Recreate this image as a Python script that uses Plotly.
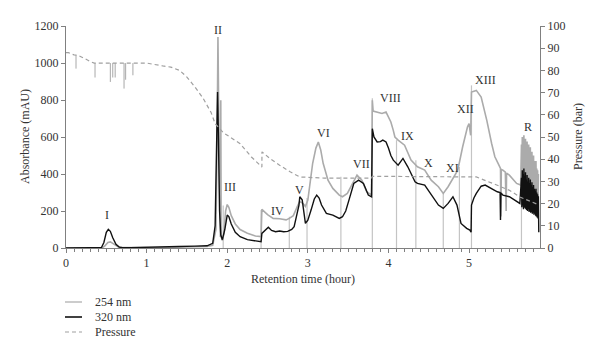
import plotly.graph_objects as go

# ---------------- data ----------------
t254 = [0, 0.1, 0.2, 0.3, 0.4, 0.45, 0.48, 0.52, 0.55, 0.6, 0.65, 0.7, 0.8, 1.0, 1.2, 1.4, 1.6, 1.75,
        1.82, 1.86, 1.875, 1.885, 1.895, 1.905, 1.915, 1.92, 1.925, 1.94, 1.96, 1.98, 2.0, 2.02, 2.05,
        2.1, 2.16, 2.25, 2.35, 2.42, 2.43, 2.5, 2.57, 2.65, 2.73, 2.77, 2.82, 2.87, 2.9, 2.94, 2.97,
        3.0, 3.03, 3.06, 3.1, 3.13, 3.16, 3.19, 3.25, 3.31, 3.39, 3.43, 3.49, 3.55, 3.61, 3.67, 3.73,
        3.79, 3.80, 3.81, 3.86, 3.92, 3.97, 4.0, 4.03, 4.06, 4.08, 4.12, 4.2, 4.28, 4.36, 4.45, 4.53,
        4.62, 4.68, 4.74, 4.8, 4.86, 4.92, 4.98, 5.0, 5.02, 5.03, 5.09, 5.15, 5.22, 5.28, 5.32, 5.36,
        5.39, 5.395, 5.40, 5.42, 5.45, 5.46, 5.465, 5.5, 5.59, 5.64,
        5.65, 5.655, 5.66, 5.665, 5.67, 5.675, 5.68, 5.685, 5.69, 5.695, 5.70, 5.705, 5.71, 5.715,
        5.72, 5.725, 5.73, 5.735, 5.74, 5.745, 5.75, 5.755, 5.76, 5.765, 5.77, 5.775, 5.78, 5.785,
        5.79, 5.795, 5.80, 5.805, 5.81, 5.815, 5.82, 5.825, 5.83, 5.835, 5.84, 5.845, 5.85, 5.855, 5.86]
v254 = [0, 1, 0, 1, 0, 2, 10, 30, 33, 20, 6, 2, 1, 2, 3, 5, 6, 8,
        15, 100, 600, 1140, 700, 200, 60, 798, 60, 40, 80, 200, 235, 220, 175,
        130, 100, 80, 65, 62, 209, 180, 160, 158, 152, 160, 175, 225, 252, 240, 225,
        259, 360, 458, 540, 573, 530, 458, 367, 322, 286, 277, 295, 349, 394, 367, 304,
        286, 798, 740, 735, 727, 735, 708, 681, 636, 600, 583, 556, 475, 439, 421, 367,
        331, 295, 331, 376, 421, 546, 654, 672, 609, 843, 852, 816, 690, 565, 493, 457,
        430, 170, 425, 421, 410, 200, 405, 394, 349, 340,
        560, 290, 600, 300, 585, 280, 610, 300, 560, 285, 590, 290, 540, 280, 575,
        275, 530, 290, 560, 270, 520, 280, 545, 265, 500, 275, 520, 260, 480,
        270, 500, 255, 470, 260, 450, 250, 470, 245, 430, 240, 420, 235, 400]

t320 = [0, 0.1, 0.2, 0.3, 0.4, 0.44, 0.47, 0.5, 0.525, 0.55, 0.58, 0.62, 0.66, 0.7, 0.8, 1.0, 1.2,
        1.4, 1.6, 1.75, 1.82, 1.85, 1.87, 1.88, 1.89, 1.905, 1.92, 1.94, 1.97, 2.0, 2.02, 2.05, 2.1,
        2.16, 2.25, 2.35, 2.42, 2.43, 2.47, 2.51, 2.55, 2.6, 2.65, 2.7, 2.75, 2.8, 2.83, 2.86, 2.89,
        2.9, 2.93, 2.97, 3.0, 3.04, 3.08, 3.11, 3.14, 3.17, 3.23, 3.31, 3.39, 3.43, 3.47, 3.51, 3.57,
        3.63, 3.69, 3.75, 3.79, 3.80, 3.82, 3.86, 3.9, 3.93, 3.97, 4.0, 4.03, 4.06, 4.12, 4.18, 4.24,
        4.33, 4.36, 4.45, 4.53, 4.62, 4.68, 4.74, 4.8, 4.85, 4.9, 4.97, 5.01, 5.025, 5.03, 5.06, 5.09,
        5.15, 5.2, 5.27, 5.35, 5.385, 5.39, 5.395, 5.42, 5.5, 5.59, 5.63,
        5.65, 5.655, 5.66, 5.665, 5.67, 5.675, 5.68, 5.685, 5.69, 5.695, 5.70, 5.705, 5.71, 5.715,
        5.72, 5.725, 5.73, 5.735, 5.74, 5.745, 5.75, 5.755, 5.76, 5.765, 5.77, 5.775, 5.78, 5.785,
        5.79, 5.795, 5.80, 5.805, 5.81, 5.815, 5.82, 5.825, 5.83, 5.835, 5.84, 5.845, 5.85, 5.855, 5.86, 5.865]
v320 = [0, 2, 1, 2, 1, 3, 30, 85, 101, 90, 55, 20, 5, 2, 2, 3, 5,
        8, 10, 12, 25, 120, 600, 843, 620, 200, 70, 45, 100, 178, 170, 130, 85,
        61, 45, 37, 34, 79, 95, 112, 95, 88, 92, 88, 90, 100, 115, 180, 232,
        277, 260, 133, 150, 205, 265, 286, 270, 232, 187, 178, 160, 169, 200, 259, 349,
        367, 349, 286, 277, 645, 600, 573, 575, 583, 573, 540, 500, 475, 448, 484, 439,
        358, 349, 340, 286, 232, 214, 241, 277, 232, 133, 106, 97, 85, 232, 270, 295,
        334, 340, 322, 304, 300, 151, 298, 286, 277, 250, 241,
        380, 220, 420, 230, 400, 210, 430, 220, 390, 215, 410, 210, 370, 205, 395,
        200, 360, 210, 380, 195, 350, 200, 370, 190, 340, 195, 355, 185, 330,
        190, 340, 180, 320, 185, 310, 175, 320, 170, 300, 165, 290, 160, 280, 85]

tp = [0, 0.03, 0.06, 0.1, 0.15, 0.2, 0.25, 0.3, 0.35, 0.5, 0.8, 1.0, 1.2, 1.3, 1.41, 1.5, 1.6,
      1.66, 1.7, 1.8, 1.85, 1.95, 2.05, 2.16, 2.3, 2.43, 2.431, 2.53, 2.65, 2.78, 2.9, 3.2, 3.5,
      3.79, 3.8, 4.2, 4.6, 5.0, 5.09, 5.3, 5.5, 5.63, 5.75, 5.86]
vp = [88, 88, 87.5, 87, 86.8, 86, 85, 84, 83.3, 83.3, 83.3, 83.3, 82, 81.5, 80, 77, 72.5,
      69.7, 67.5, 61, 56, 52, 49.5, 47, 41, 36.5, 43.3, 40.3, 37.3, 34.3, 32, 31.5, 31.5,
      31.5, 32.3, 32.3, 32.3, 32.3, 32, 29, 26, 23, 21, 19.5]

# short downward spikes in the pressure record (time, lowest value in bar)
spike_t = [0.124, 0.36, 0.55, 0.58, 0.61, 0.72, 0.74, 0.83]
spike_low = [80.8, 76.8, 74.8, 76.8, 76.8, 71.8, 75.8, 77.8]

# fraction-collection markers (time, height in mAU)
frac_t = [1.95, 2.42, 2.77, 2.99, 3.41, 3.80, 4.10, 4.34, 4.68, 4.88, 5.03, 5.65]
frac_h = [230, 205, 169, 270, 385, 809, 583, 475, 295, 438, 879, 340]

peak_labels = ["I", "II", "III", "IV", "V", "VI", "VII", "VIII", "IX", "X", "XI", "XII", "XIII", "R"]
label_t = [0.51, 1.89, 2.03, 2.62, 2.9, 3.19, 3.66, 4.02, 4.24, 4.5, 4.79, 4.96, 5.2, 5.73]
label_v = [178, 1181, 329, 200, 313, 620, 453, 809, 604, 458, 431, 750, 906, 653]

legend_names = ["254 nm", "320 nm", "Pressure"]

# ---------------- figure ----------------
FONT = "Liberation Serif"
TXT = "#333333"
C254 = "#ababab"
C320 = "#111111"
CP = "#a0a0a0"

# the page body has an 8px margin, so the figure is sized/offset to compensate
BODY = 8
W, H = 600 - BODY, 357 - BODY
PLOT_L, PLOT_R, PLOT_T, PLOT_B = 66, 540, 26, 248   # plot area in page pixels
L = PLOT_L - BODY
T = PLOT_T - BODY
R = W - (PLOT_R - BODY)
B = H - (PLOT_B - BODY)
PW, PH = PLOT_R - PLOT_L, PLOT_B - PLOT_T


def px_x(px):
    return (px - PLOT_L) / PW


def px_y(py):
    return (PLOT_B - py) / PH


fig = go.Figure()

fx, fy = [], []
for t, h in zip(frac_t, frac_h):
    fx += [t, t, None]
    fy += [0, h, None]
fig.add_trace(go.Scatter(x=fx, y=fy, mode="lines", line=dict(color="#c4c4c4", width=1.2),
                         showlegend=False, hoverinfo="skip"))

fig.add_trace(go.Scatter(x=t254, y=v254, mode="lines", name=legend_names[0],
                         line=dict(color=C254, width=1.6), showlegend=False))
fig.add_trace(go.Scatter(x=t320, y=v320, mode="lines", name=legend_names[1],
                         line=dict(color=C320, width=1.4), showlegend=False))

sx, sy = [], []
for t, lo in zip(spike_t, spike_low):
    top = 83.3 if t > 0.3 else 86.9
    sx += [t, t, None]
    sy += [top, lo, None]
fig.add_trace(go.Scatter(x=sx, y=sy, mode="lines", line=dict(color="#a8a8a8", width=1),
                         yaxis="y2", showlegend=False, hoverinfo="skip"))
fig.add_trace(go.Scatter(x=tp, y=vp, mode="lines", name=legend_names[2], yaxis="y2",
                         line=dict(color=CP, width=1.2, dash="4px,3px"), showlegend=False))

for txt, t, v in zip(peak_labels, label_t, label_v):
    fig.add_annotation(x=t, y=v, text=txt, showarrow=False, xanchor="center", yanchor="middle",
                       font=dict(family=FONT, size=12, color=TXT))

# axis titles as annotations (exact placement)
fig.add_annotation(xref="paper", yref="paper", x=px_x(25), y=0.5, text="Absorbance (mAU)",
                   textangle=-90, showarrow=False, xanchor="center", yanchor="middle",
                   font=dict(family=FONT, size=12, color=TXT))
fig.add_annotation(xref="paper", yref="paper", x=px_x(578), y=0.5, text="Pressure (bar)",
                   textangle=-90, showarrow=False, xanchor="center", yanchor="middle",
                   font=dict(family=FONT, size=12, color=TXT))
fig.add_annotation(xref="paper", yref="paper", x=px_x(303), y=px_y(279), text="Retention time (hour)",
                   showarrow=False, xanchor="center", yanchor="middle",
                   font=dict(family=FONT, size=12, color=TXT))

# manual legend
leg_rows = [302, 317, 332]
leg_styles = [dict(color=C254, width=1.2), dict(color=C320, width=1.6),
              dict(color=CP, width=1.2, dash="4px,3px")]
for name, py, st in zip(legend_names, leg_rows, leg_styles):
    fig.add_shape(type="line", xref="paper", yref="paper", x0=px_x(65), x1=px_x(82),
                  y0=px_y(py), y1=px_y(py), line=st)
    fig.add_annotation(xref="paper", yref="paper", x=px_x(93), y=px_y(py), text=name,
                       xanchor="left", yanchor="middle", showarrow=False,
                       font=dict(family=FONT, size=12, color=TXT))

axis_common = dict(showline=True, linecolor="#808080", linewidth=1, ticks="outside",
                   ticklen=4, tickcolor="#808080", showgrid=False, zeroline=False, automargin=False,
                   tickfont=dict(family=FONT, size=12, color=TXT))

fig.update_layout(
    width=W, height=H,
    margin=dict(l=L, r=R, t=T, b=B, autoexpand=False),
    paper_bgcolor="white", plot_bgcolor="white",
    font=dict(family=FONT, size=12, color=TXT),
    xaxis=dict(range=[0, 5.88], dtick=1, tick0=0,
               minor=dict(dtick=0.1, ticks="outside", ticklen=3, tickcolor="#808080"),
               **axis_common),
    yaxis=dict(range=[0, 1200], dtick=200, **axis_common),
    yaxis2=dict(range=[0, 100], dtick=10, overlaying="y", side="right", **axis_common),
    showlegend=False,
)

fig.write_html("out.html")
